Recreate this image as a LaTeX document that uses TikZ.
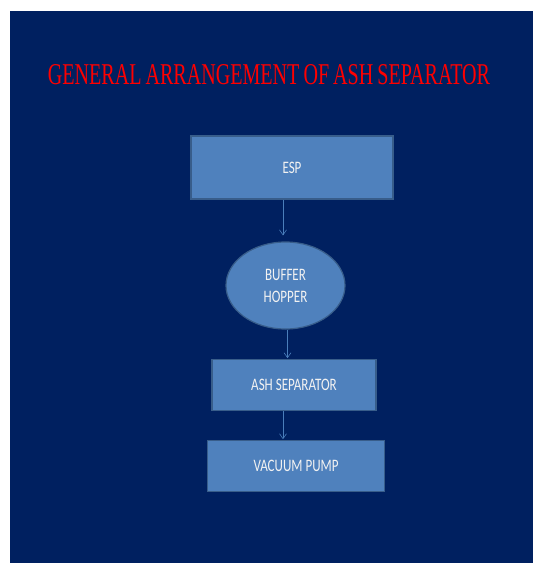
\documentclass[tikz,border=0pt]{standalone}
\usepackage{fontspec}
\newfontfamily\titlefont[FakeStretch=0.665, WordSpace=0.8]{Liberation Serif}
\newfontfamily\boxfont[FakeStretch=0.745]{Carlito}
\usepackage{tikz}
\usetikzlibrary{positioning, arrows.meta, shapes.geometric}
\definecolor{Slide}{RGB}{0,32,96}
\definecolor{Boxfill}{RGB}{79,129,189}
\definecolor{Boxline}{RGB}{56,93,138}
\definecolor{Linkcol}{RGB}{74,126,187}
\definecolor{Titlered}{RGB}{255,0,0}
\definecolor{Boxtext}{RGB}{242,242,242}

\begin{document}
\begin{tikzpicture}[x=1pt, y=-1pt,
  ttl/.style={anchor=base, inner sep=0pt, text=Titlered,
              font=\titlefont\fontsize{30.2}{32}\selectfont},
  pbox/.style={rectangle, draw=Boxline, fill=Boxfill, line width=1.2pt,
               align=center, text=Boxtext,
               font=\boxfont\fontsize{17.5}{22}\selectfont},
  pell/.style={ellipse, draw=Boxline, fill=Boxfill, line width=1.2pt,
               inner sep=0pt, align=center, text=Boxtext,
               font=\boxfont\fontsize{17.5}{22}\selectfont},
  link/.style={-{Straight Barb[length=5pt, width=7pt]}, line width=0.6pt,
               color=Linkcol}
]

%% ─── Fondo ──────────────────────────────────────────────────
\fill[white] (0,0) rectangle (533,563);
\fill[Slide] (10,11) rectangle (533,563);

%% ─── Titulo ─────────────────────────────────────────────────
\node[ttl] (title) at (269, 84.3) {GENERAL ARRANGEMENT OF ASH SEPARATOR};

%% ─── Bloques ────────────────────────────────────────────────
\node[pbox, minimum width=202pt, minimum height=63pt] (esp)    at (292, 167.5) {ESP};
\node[pell, minimum width=119pt, minimum height=87pt] (hopper) at (285.5, 285.5)
    {BUFFER\\HOPPER};
\node[pbox, minimum width=164pt, minimum height=51pt] (ash)    at (294, 385.3) {ASH SEPARATOR};
\node[pbox, minimum width=177pt, minimum height=51pt] (vac)    at (296, 466.3) {VACUUM PUMP};

%% ─── Conexiones ─────────────────────────────────────────────
\draw[link, shorten >=6pt] ([xshift=-2.5pt]esp.south -| hopper.north) -- ([xshift=-2.5pt]hopper.north);
\draw[link, shorten >=1pt] ([xshift=2pt]hopper.south) -- ([xshift=2pt]hopper.south |- ash.north);
\draw[link, shorten >=1pt] ([xshift=-11pt]ash.south) -- ([xshift=-11pt]ash.south |- vac.north);

\end{tikzpicture}
\end{document}
